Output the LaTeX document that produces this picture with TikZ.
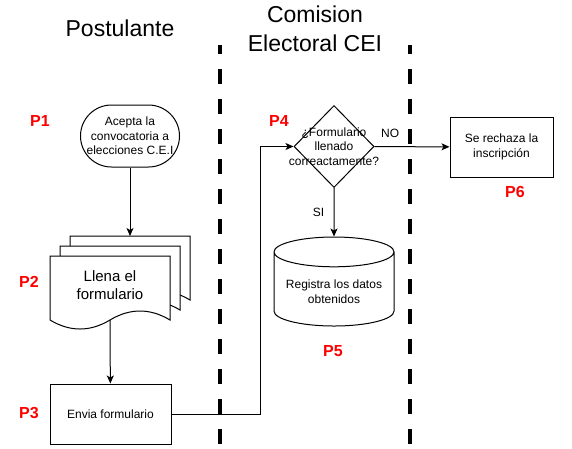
\documentclass[tikz,border=0pt]{standalone}
\usepackage{fontspec}
\setmainfont{Liberation Sans}
\usetikzlibrary{shapes.geometric,arrows.meta}

\begin{document}
\begin{tikzpicture}[x=1pt,y=-1pt,line width=1pt,
	lane/.style={line width=4.5pt,dash pattern=on 15pt off 15pt,dash phase=6pt},
	titulo/.style={font=\fontsize{23}{29}\selectfont,align=center},
	paso/.style={font=\fontsize{16}{19}\selectfont\bfseries,text=red},
	txt/.style={font=\fontsize{12}{14.5}\selectfont,align=center},
	caja/.style={draw,txt,minimum width=121pt,minimum height=60pt},
	hoja/.style={draw,fill=white},
	flecha/.style={-{Stealth[length=8pt,width=7pt,inset=2pt]}}]
	\useasboundingbox (0,0) rectangle (572,448);
	\fill[white] (0,0) rectangle (572,448);

	\node[titulo] (post) at (120,28) {Postulante};
	\node[titulo] (cei) at (315,29) {Comision\\Electoral CEI};
	\draw[lane] (220,45) -- (220,448);
	\draw[lane] (410,45) -- (410,448);

	\node[draw,txt,rounded corners=31pt,minimum width=99pt,minimum height=62pt,inner sep=0pt] (acepta) at (130,136) {Acepta la\\convocatoria a\\elecciones C.E.I};
	\foreach \d in {20,10,0}
		\draw[hoja,shift={(\d,-\d)}] (50,256) -- (170,256) -- (170,320) .. controls (150,308) and (130,308) .. (110,320) .. controls (90,332) and (70,332) .. (50,320) -- cycle;
	\node[txt,font=\fontsize{15}{18}\selectfont] (llena) at (110,285) {Llena el\\formulario};
	\coordinate (hojaarriba) at (130,236);
	\coordinate (hojaabajo) at (110,320);
	\node[caja] (envia) at (110.5,414) {Envia formulario};

	\node[draw,diamond,minimum width=80pt,minimum height=82pt,inner sep=0pt,label={[txt]center:¿Formulario\\llenado\\correactamente?}] (dec) at (334,146.5) {};
	\node[caja,minimum width=103pt] (rechaza) at (501.5,147) {Se rechaza la\\inscripción};
	\node[draw,cylinder,shape border rotate=90,aspect=0.29,minimum width=120pt,minimum height=89pt,txt,anchor=shape center] (registra) at (334,281.5) {Registra los datos\\obtenidos};

	\node[paso] (p1) at (40,121) {P1};
	\node[paso] (p2) at (29,282) {P2};
	\node[paso] (p3) at (29,413) {P3};
	\node[paso] (p4) at (279,121) {P4};
	\node[paso] (p5) at (333,351) {P5};
	\node[paso] (p6) at (515,192) {P6};

	\coordinate (codo) at (260,414);
	\draw[flecha] (acepta) -- (hojaarriba);
	\draw[flecha] (hojaabajo) -- (envia);
	\draw[flecha] (envia) -- (codo) |- (dec);
	\draw[flecha] (dec) -- node[txt,above=5pt,pos=0.21] {NO} (rechaza);
	\draw[flecha] (dec) -- node[txt,left=6pt] {SI} (registra);
\end{tikzpicture}
\end{document}
